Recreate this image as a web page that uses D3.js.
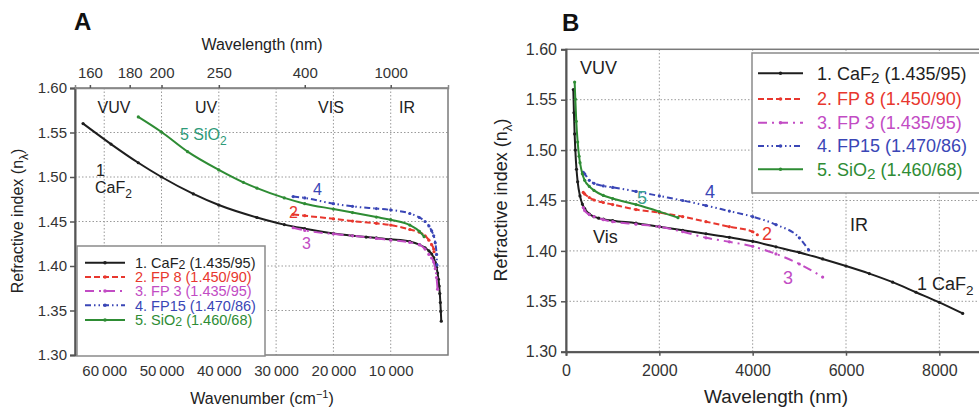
<!DOCTYPE html>
<html><head><meta charset="utf-8">
<script src="https://cdn.jsdelivr.net/npm/d3@7"></script>
<style>
body{margin:0;background:#fff;}
svg{font-family:"Liberation Sans",Arial,sans-serif;}
</style></head>
<body><svg id="c" width="979" height="410"></svg>
<script>
// ---- data (wavelength nm, refractive index) ----
const caf2Wl = [157,170,185,200,225,250,300,350,400,500,600,700,800,1000,1500,2000,2500,3000,3500,4000,4500,5000,5500,6000,6500,7000,7500,8000,8500];
const caf2N  = [1.560,1.537,1.516,1.500,1.481,1.4685,1.4545,1.4465,1.442,1.4365,1.434,1.4325,1.4315,1.430,1.4275,1.424,1.4205,1.417,1.4135,1.4095,1.404,1.3985,1.392,1.385,1.3775,1.369,1.359,1.349,1.338];
const fp8Wl  = [370,400,500,600,800,1000,1500,2000,2500,3000,3500,4000,4100];
const fp8N   = [1.458,1.4565,1.453,1.4505,1.448,1.446,1.441,1.438,1.434,1.429,1.424,1.419,1.416];
const fp3Wl  = [370,400,500,600,800,1000,1500,2000,2500,3000,3500,4000,4500,5000,5500];
const fp3N   = [1.443,1.440,1.436,1.434,1.431,1.429,1.4265,1.424,1.419,1.413,1.409,1.4045,1.397,1.387,1.374];
const fp15Wl = [370,400,500,600,800,1000,1500,2000,2500,3000,3500,4000,4500,5000,5200];
const fp15N  = [1.478,1.4765,1.470,1.467,1.4645,1.463,1.459,1.4545,1.450,1.445,1.4395,1.434,1.426,1.413,1.401];
const sio2Wl = [185,200,220,250,280,300,350,400,500,600,800,1000,1500,2000,2400];
const sio2N  = [1.5675,1.5505,1.5285,1.508,1.494,1.4875,1.4765,1.470,1.464,1.460,1.455,1.452,1.446,1.439,1.433];

const seriesNames = ["1. CaF\u2082 (1.435/95)","2. FP 8 (1.450/90)","3.  FP 3 (1.435/95)","4. FP15 (1.470/86)","5. SiO\u2082 (1.460/68)"];
const seriesColors = ["#1e1e1e","#e8372e","#c24cc4","#3a46b6","#2e8c34"];
const seriesDash = [null,"6,3","9,5,2,5","6,3,1.5,3,1.5,3",null];

const yTicks = [1.30,1.35,1.40,1.45,1.50,1.55,1.60];
const wnTicks = [60000,50000,40000,30000,20000,10000];
const wlTopTicks = [160,180,200,250,400,1000];
const wlTicksB = [0,2000,4000,6000,8000];

const series = [[caf2Wl,caf2N],[fp8Wl,fp8N],[fp3Wl,fp3N],[fp15Wl,fp15N],[sio2Wl,sio2N]].map((s,i)=>({
  pts: s[0].map((w,j)=>({wl:w,n:s[1][j]})), color:seriesColors[i], dash:seriesDash[i], name:seriesNames[i]
}));

const svg = d3.select("#c");
const fmtWn = d => d3.format(",")(d).replace(",", "\u2009");

function grid(g, x, y, xt, yt, x0,x1,y0,y1){
  g.selectAll(".vg").data(xt).join("line").attr("x1",d=>x(d)).attr("x2",d=>x(d)).attr("y1",y0).attr("y2",y1)
   .attr("stroke","#9a9a9a").attr("stroke-width",1).attr("stroke-dasharray","1.5,2");
  g.selectAll(".hg").data(yt).join("line").attr("x1",x0).attr("x2",x1).attr("y1",d=>y(d)).attr("y2",d=>y(d))
   .attr("stroke","#9a9a9a").attr("stroke-width",1).attr("stroke-dasharray","1.5,2");
}
function drawSeries(g, x, y, xv){
  const line = d3.line().x(d=>x(xv(d))).y(d=>y(d.n)).curve(d3.curveMonotoneX);
  series.forEach(s=>{
    g.append("path").attr("d",line(s.pts)).attr("fill","none").attr("stroke",s.color).attr("stroke-width",2)
      .attr("stroke-dasharray",s.dash);
    g.selectAll(null).data(s.pts).join("circle").attr("cx",d=>x(xv(d))).attr("cy",d=>y(d.n)).attr("r",1.6).attr("fill",s.color);
  });
}
function legend(g, bx, by, bw, bh, lx0, lx1, tx, rows, fs, sdy){
  g.append("rect").attr("x",bx).attr("y",by).attr("width",bw).attr("height",bh).attr("fill","#fff").attr("stroke","#8a8a8a").attr("stroke-width",1.5);
  series.forEach((s,i)=>{
    const yy = rows[i];
    g.append("line").attr("x1",lx0).attr("x2",lx1).attr("y1",yy).attr("y2",yy).attr("stroke",s.color).attr("stroke-width",2).attr("stroke-dasharray",s.dash);
    g.append("circle").attr("cx",(lx0+lx1)/2).attr("cy",yy).attr("r",1.8).attr("fill",s.color);
    const t = g.append("text").attr("x",tx).attr("y",yy+fs*0.36).attr("fill",s.color).attr("font-size",fs);
    const m = s.name.match(/^(.*?)\u2082(.*)$/);
    if(m){ t.append("tspan").text(m[1]); t.append("tspan").text("2").attr("dy",sdy).attr("font-size",fs*0.85); t.append("tspan").text(" "+m[2].trim()).attr("dy",-sdy);}
    else t.text(s.name);
  });
}
function sub(t, a, b, c, fs){
  t.append("tspan").text(a); t.append("tspan").text(b).attr("dy",fs*0.3).attr("font-size",fs*0.75); if(c) t.append("tspan").text(c).attr("dy",-fs*0.3);
}

// ================= Panel A =================
{
  const L=75,R=448,T=88,B=355;
  const x = d3.scaleLinear().domain([65100,0]).range([L,R]);
  const y = d3.scaleLinear().domain([1.30,1.60]).range([B,T]);
  const g = svg.append("g");
  grid(g,x,y,wnTicks,yTicks.slice(1,-1),L,R,T,B);
  g.append("rect").attr("x",L).attr("y",T).attr("width",R-L).attr("height",B-T).attr("fill","none").attr("stroke","#7a7a7a").attr("stroke-width",1.5);
  const ya = g.append("g").attr("transform",`translate(${L},0)`).call(d3.axisLeft(y).tickValues(yTicks).tickFormat(d3.format(".2f")).tickSize(5).tickPadding(3));
  const xb = g.append("g").attr("transform",`translate(0,${B})`).call(d3.axisBottom(x).tickValues(wnTicks).tickFormat(fmtWn).tickSize(0).tickPadding(10));
  const xt = g.append("g").attr("transform",`translate(0,${T})`).call(d3.axisTop(x).tickValues(wlTopTicks.map(w=>1e7/w)).tickFormat(d=>Math.round(1e7/d)).tickSize(3).tickPadding(7));
  [ya,xb,xt].forEach(a=>{a.select(".domain").attr("stroke","#555").attr("stroke-width",2);a.selectAll(".tick line").attr("stroke","#555").attr("stroke-width",1.5);
    a.selectAll("text").attr("font-size",15).attr("fill","#333").attr("font-family","Liberation Sans, Arial, sans-serif");});
  xb.select(".domain").remove(); xt.select(".domain").attr("stroke","#888").attr("stroke-width",1.5);
  drawSeries(g,x,y,d=>1e7/d.wl);
  legend(g,77,246,188,110,85,125,135,[262.7,277,291,305.3,320],14.5,1);
  // region labels
  [["VUV",114],["UV",206],["VIS",331],["IR",407]].forEach(([t,xx])=>g.append("text").attr("x",xx).attr("y",113).attr("text-anchor","middle").attr("font-size",16).attr("fill","#222").text(t));
  const s5 = g.append("text").attr("x",180).attr("y",140).attr("font-size",16).attr("fill","#2e9a78"); sub(s5,"5 SiO","2",null,16);
  g.append("text").attr("x",96).attr("y",176).attr("font-size",16).attr("fill","#222").text("1");
  const cf = g.append("text").attr("x",95).attr("y",193).attr("font-size",16).attr("fill","#222"); sub(cf,"CaF","2",null,16);
  g.append("text").attr("x",313).attr("y",195).attr("font-size",16).attr("fill",seriesColors[3]).text("4");
  g.append("text").attr("x",289).attr("y",218).attr("font-size",16).attr("fill",seriesColors[1]).text("2");
  g.append("text").attr("x",302).attr("y",249).attr("font-size",16).attr("fill",seriesColors[2]).text("3");
  // titles
  g.append("text").attr("x",262).attr("y",50).attr("text-anchor","middle").attr("font-size",16).attr("fill","#222").text("Wavelength (nm)");
  const wt = g.append("text").attr("x",262).attr("y",404).attr("text-anchor","middle").attr("font-size",16).attr("fill","#222");
  wt.append("tspan").text("Wavenumber (cm"); wt.append("tspan").text("\u22121").attr("dy",-6).attr("font-size",11); wt.append("tspan").text(")").attr("dy",6);
  const yt = g.append("text").attr("transform","translate(23,221) rotate(-90)").attr("text-anchor","middle").attr("font-size",16).attr("fill","#222");
  sub(yt,"Refractive index (n","\u03bb",")",16);
  g.append("text").attr("x",74).attr("y",30).attr("font-size",24).attr("font-weight","bold").attr("fill","#111").text("A");
}

// ================= Panel B =================
{
  const L=566,R=986,T=49.3,B=351.7;
  const x = d3.scaleLinear().domain([0,9000]).range([L,R]);
  const y = d3.scaleLinear().domain([1.30,1.60]).range([B,T]);
  const g = svg.append("g");
  grid(g,x,y,wlTicksB.slice(1),yTicks.slice(1,-1),L,R,T,B);
  g.append("rect").attr("x",L).attr("y",T).attr("width",R-L).attr("height",B-T).attr("fill","none").attr("stroke","#7a7a7a").attr("stroke-width",1.5);
  const ya = g.append("g").attr("transform",`translate(${L},0)`).call(d3.axisLeft(y).tickValues(yTicks).tickFormat(d3.format(".2f")).tickSize(5).tickPadding(4));
  const xb = g.append("g").attr("transform",`translate(0,${B})`).call(d3.axisBottom(x).tickValues(wlTicksB).tickFormat(d3.format("d")).tickSize(4).tickPadding(9));
  [ya,xb].forEach(a=>{a.select(".domain").attr("stroke","#555").attr("stroke-width",2);a.selectAll(".tick line").attr("stroke","#555").attr("stroke-width",1.5);
    a.selectAll("text").attr("font-size",16).attr("fill","#333").attr("font-family","Liberation Sans, Arial, sans-serif");});
  drawSeries(g,x,y,d=>d.wl);
  legend(g,752,53,240,140,758,803,817,[73.3,99,122.7,146,169.3],18,3);
  g.append("text").attr("x",580).attr("y",74).attr("font-size",18).attr("fill","#222").text("VUV");
  g.append("text").attr("x",593).attr("y",243).attr("font-size",18).attr("fill","#222").text("Vis");
  g.append("text").attr("x",850).attr("y",231).attr("font-size",18).attr("fill","#222").text("IR");
  const cl = g.append("text").attr("x",917).attr("y",290).attr("font-size",18).attr("fill","#222"); sub(cl,"1 CaF","2",null,18);
  g.append("text").attr("x",762).attr("y",240).attr("font-size",18).attr("fill",seriesColors[1]).text("2");
  g.append("text").attr("x",783).attr("y",284).attr("font-size",18).attr("fill",seriesColors[2]).text("3");
  g.append("text").attr("x",705).attr("y",198).attr("font-size",18).attr("fill",seriesColors[3]).text("4");
  g.append("text").attr("x",637).attr("y",204).attr("font-size",18).attr("fill","#3aa090").text("5");
  g.append("text").attr("x",776).attr("y",403).attr("text-anchor","middle").attr("font-size",19).attr("fill","#222").text("Wavelength (nm)");
  const yt = g.append("text").attr("transform","translate(507,200) rotate(-90)").attr("text-anchor","middle").attr("font-size",18).attr("fill","#222");
  sub(yt,"Refractive index (n","\u03bb",")",18);
  g.append("text").attr("x",562).attr("y",31).attr("font-size",24).attr("font-weight","bold").attr("fill","#111").text("B");
}
</script></body></html>
